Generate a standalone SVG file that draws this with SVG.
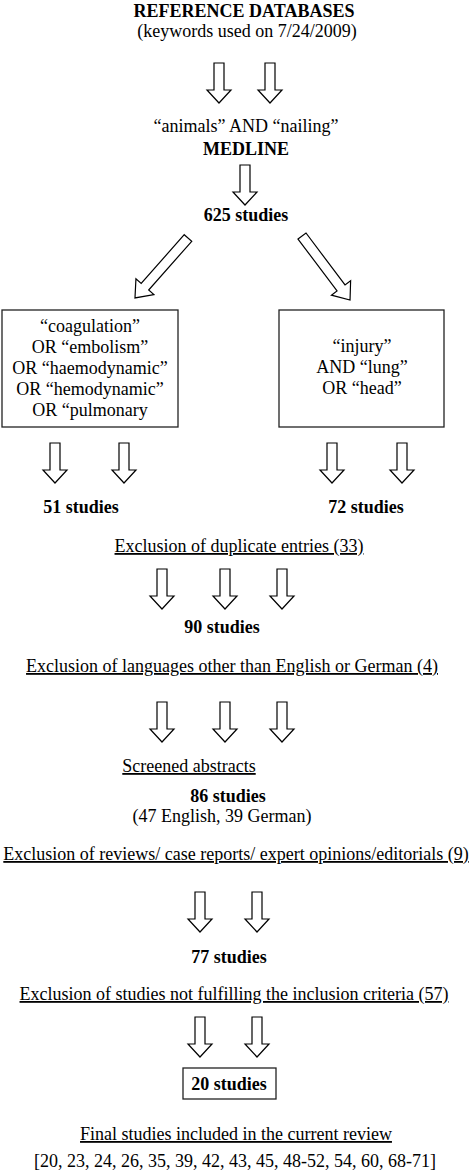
<svg xmlns="http://www.w3.org/2000/svg" xmlns:xlink="http://www.w3.org/1999/xlink" width="472" height="1174" viewBox="0 0 472 1174">
<style>
text{font-family:"Liberation Serif","Times New Roman",serif;font-size:18px;fill:#000;text-anchor:middle}
.b{font-weight:bold}
.u{text-decoration:underline}
.box{fill:#fff;stroke:#222;stroke-width:1.3}
.arr{fill:#fff;stroke:#000;stroke-width:1.2;stroke-linejoin:miter}
</style>
<defs>
<path id="down" class="arr" d="M-5,0 h10 v27 h7 l-12,13 l-12,-13 h7 z"/>
<path id="diag" class="arr" d="M-5,0 h10 v65 h7 l-12,15 l-12,-15 h7 z"/>
</defs>
<rect width="472" height="1174" fill="#fff"/>
<g id="connectors">
<use xlink:href="#down" x="219" y="63"/>
<use xlink:href="#down" x="270" y="63"/>
<use xlink:href="#down" x="245" y="165"/>
<use xlink:href="#diag" transform="translate(188,238) rotate(41.5)"/>
<use xlink:href="#diag" transform="translate(302,236) rotate(-36.9)"/>
<use xlink:href="#down" x="55" y="443"/>
<use xlink:href="#down" x="124" y="443"/>
<use xlink:href="#down" x="332" y="443"/>
<use xlink:href="#down" x="402" y="443"/>
<use xlink:href="#down" x="162" y="569"/>
<use xlink:href="#down" x="225" y="569"/>
<use xlink:href="#down" x="282" y="569"/>
<use xlink:href="#down" x="162" y="702"/>
<use xlink:href="#down" x="225" y="702"/>
<use xlink:href="#down" x="282" y="702"/>
<use xlink:href="#down" x="200" y="892"/>
<use xlink:href="#down" x="257" y="892"/>
<use xlink:href="#down" x="200" y="1017"/>
<use xlink:href="#down" x="257" y="1017"/>
</g>
<g id="ref-databases">
<text class="b" x="244" y="17">REFERENCE DATABASES</text>
<text x="247" y="37">(keywords used on 7/24/2009)</text>
</g>
<g id="medline">
<text x="246" y="132">“animals” AND “nailing”</text>
<text class="b" x="246" y="155">MEDLINE</text>
</g>
<g id="n625">
<text class="b" x="246" y="221">625 studies</text>
</g>
<g id="box-left">
<rect class="box" x="2" y="310" width="176" height="117"/>
<text x="90" y="332">“coagulation”</text>
<text x="90" y="353">OR “embolism”</text>
<text x="90" y="374">OR “haemodynamic”</text>
<text x="90" y="395">OR “hemodynamic”</text>
<text x="90" y="416">OR “pulmonary</text>
</g>
<g id="box-right">
<rect class="box" x="279" y="310" width="165" height="117"/>
<text x="362" y="352">“injury”</text>
<text x="362" y="373">AND “lung”</text>
<text x="362" y="394">OR “head”</text>
</g>
<g id="n51"><text class="b" x="81" y="513">51 studies</text></g>
<g id="n72"><text class="b" x="366" y="513">72 studies</text></g>
<g id="excl-dup"><text class="u" x="239" y="552">Exclusion of duplicate entries (33)</text></g>
<g id="n90"><text class="b" x="222" y="633">90 studies</text></g>
<g id="excl-lang"><text class="u" x="232" y="672">Exclusion of languages other than English or German (4)</text></g>
<g id="screened"><text class="u" x="189" y="772">Screened abstracts</text></g>
<g id="n86">
<text class="b" x="228" y="802">86 studies</text>
<text x="222" y="822">(47 English, 39 German)</text>
</g>
<g id="excl-rev"><text class="u" x="236" y="860">Exclusion of reviews/ case reports/ expert opinions/editorials (9)</text></g>
<g id="n77"><text class="b" x="229" y="963">77 studies</text></g>
<g id="excl-crit"><text class="u" x="234" y="1000">Exclusion of studies not fulfilling the inclusion criteria (57)</text></g>
<g id="n20">
<rect class="box" x="183" y="1068" width="93" height="31"/>
<text class="b" x="229" y="1090">20 studies</text>
</g>
<g id="final">
<text class="u" x="236" y="1140">Final studies included in the current review</text>
<text x="235" y="1167">[20, 23, 24, 26, 35, 39, 42, 43, 45, 48-52, 54, 60, 68-71]</text>
</g>
</svg>
